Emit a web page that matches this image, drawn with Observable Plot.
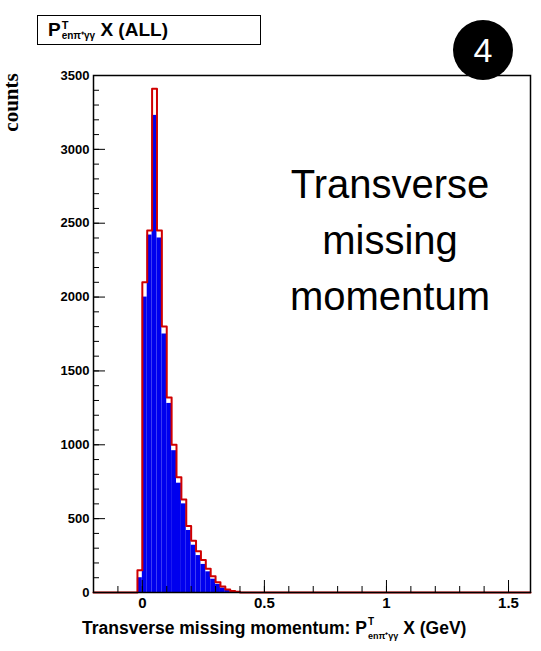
<!DOCTYPE html>
<html><head>
<script src="https://cdn.jsdelivr.net/npm/d3@7"></script>
<script src="https://cdn.jsdelivr.net/npm/@observablehq/plot@0.6"></script>
<style>
body{margin:0;background:#fff;font-family:Arial,"Liberation Sans",sans-serif}
#wrap{position:relative;width:541px;height:651px}
#wrap svg{position:absolute;left:0;top:0}
.t{position:absolute}
.ss{display:inline-flex;flex-direction:column;vertical-align:middle;line-height:1;margin-left:1px}
</style></head><body>
<div id="wrap">
<div class="t" style="left:37px;top:15px;width:224px;height:30px;border:1.5px solid #000;font-weight:bold;font-size:19px;line-height:27px;padding-left:10px;box-sizing:border-box;white-space:nowrap">P<span class="ss"><span style="font-size:11px">T</span><span style="font-size:10px">enπ⁺γγ</span></span> X (ALL)</div>
<div class="t" style="left:-18px;top:90px;transform:rotate(-90deg);font-family:'Liberation Serif',serif;font-weight:bold;font-size:21px">counts</div>
<div class="t" style="left:453px;top:20px;width:60px;height:60px;border-radius:50%;background:#000;color:#fff;font-size:34px;text-align:center;line-height:60px">4</div>
<div class="t" style="left:255px;top:156px;width:270px;text-align:center;font-size:40px;line-height:56px;color:#000">Transverse<br>missing<br>momentum</div>
<div class="t" style="left:82px;top:617px;font-weight:bold;font-size:17.5px;white-space:nowrap">Transverse missing momentum: P<span class="ss"><span style="font-size:10px">T</span><span style="font-size:9px;margin-top:5px">enπ⁺γγ</span></span> X (GeV)</div>
</div>
<script>
const binStart = [-0.02,0,0.02,0.04,0.06,0.08,0.10,0.12,0.14,0.16,0.18,0.20,0.22,0.24,0.26,0.28,0.30,0.32,0.34,0.36,0.38];
const redCounts = [150,2100,2450,3410,2450,1800,1320,1000,780,630,450,350,280,220,160,110,70,40,20,10,5];
const blueCounts = [100,2000,2420,3230,2400,1750,1280,960,740,600,420,320,250,190,140,90,55,30,15,8,3];
const binW = 0.02;
const xTicks = [0,0.5,1,1.5];
const yTicks = [0,500,1000,1500,2000,2500,3000,3500];

const bins = binStart.map((s,i)=>({x1:s,x2:s+binW,red:redCounts[i],blue:blueCounts[i]}));
const step = [{x:-0.2,y:0}];
bins.forEach(b=>{step.push({x:b.x1,y:b.red});});
step.push({x:binStart[binStart.length-1]+binW,y:0},{x:1.59,y:0});
const fmt = d=>String(d);
const plot = Plot.plot({
  width:541,height:651,
  marginLeft:93,marginRight:11,marginTop:75,marginBottom:59,
  x:{domain:[-0.2,1.59]},
  y:{domain:[0,3500]},
  style:{fontFamily:"Arial, sans-serif",fontWeight:"bold",fontSize:"12px"},
  marks:[
    Plot.rectY(bins,{x1:"x1",x2:"x2",y:"blue",fill:"#0000ee",inset:0}),
    Plot.line(step,{x:"x",y:"y",curve:"step-after",stroke:"#d00000",strokeWidth:2}),
    Plot.axisX({ticks:xTicks,tickSize:-12,tickFormat:fmt,label:null,fontSize:15,tickPadding:17}),
    Plot.axisX({ticks:d3.range(-0.1,1.59,0.1),tickSize:-6,text:null,label:null}),
    Plot.axisY({ticks:yTicks,tickSize:-12,tickFormat:fmt,label:null,tickPadding:16,fontSize:13}),
    Plot.axisY({ticks:d3.range(0,3501,100),tickSize:-6,text:null,label:null}),
    Plot.frame({stroke:"#000",strokeWidth:1.5})
  ]
});
document.getElementById("wrap").prepend(plot);
</script>
</body></html>
